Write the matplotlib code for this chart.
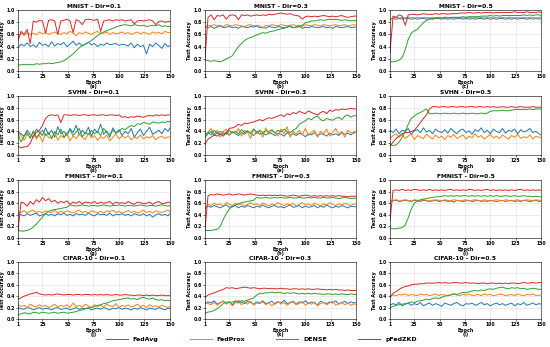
import numpy as np
import matplotlib.pyplot as plt

# sampled epochs (every 3rd epoch + last)
EPOCHS = list(range(1, 150, 3)) + [150]

methods = ["FedAvg", "FedProx", "DENSE", "pFedZKD"]
colors = ["#1f77b4", "#ff7f0e", "#2ca02c", "#d62728"]

titles = ["MNIST - Dir=0.1", "MNIST - Dir=0.3", "MNIST - Dir=0.5",
          "SVHN - Dir=0.1", "SVHN - Dir=0.3", "SVHN - Dir=0.5",
          "FMNIST - Dir=0.1", "FMNIST - Dir=0.3", "FMNIST - Dir=0.5",
          "CIFAR-10 - Dir=0.1", "CIFAR-10 - Dir=0.3", "CIFAR-10 - Dir=0.5"]
letters = "abcdefghijkl"

# test accuracy in %, order: FedAvg, FedProx, DENSE, pFedZKD
mnist_01 = [
    [38,44,41,46,40,43,39,47,42,44,40,48,41,45,43,47,40,44,49,42,46,41,44,47,43,45,40,44,42,46,43,44,45,42,44,43,41,46,38,44,40,42,28,44,40,46,42,37,45,40,42],
    [55,62,58,63,60,62,59,64,61,63,60,62,64,61,60,63,61,65,62,58,63,61,64,62,60,63,65,61,62,64,60,63,61,62,64,61,63,60,62,64,61,63,62,60,64,62,63,61,65,63,63],
    [10,10,11,10,11,10,12,11,12,12,13,12,13,14,15,17,20,24,28,33,38,42,44,47,50,54,58,62,64,66,68,70,72,74,75,76,75,74,76,75,74,75,73,74,75,74,76,73,74,73,73],
    [50,65,60,68,45,82,80,83,82,62,83,84,82,60,82,83,85,82,63,84,82,76,84,85,84,83,85,65,82,83,84,82,84,83,84,82,83,84,77,82,83,82,83,84,82,76,81,82,80,81,81],
]
mnist_03 = [
    [72,71,73,70,72,74,71,72,73,71,72,70,73,72,71,73,72,74,71,72,70,73,72,71,73,72,71,72,74,71,72,73,70,72,71,73,72,71,72,73,71,72,70,73,72,71,72,73,71,72,72],
    [73,75,74,76,74,75,73,76,75,74,76,75,74,73,75,76,74,75,74,70,75,74,76,75,74,76,75,74,75,76,74,75,73,76,75,74,76,75,74,76,75,74,75,76,74,75,76,74,75,76,75],
    [18,17,16,17,16,15,17,20,22,25,33,40,45,50,53,55,57,59,61,63,62,64,65,66,68,69,70,72,73,71,72,73,75,79,80,82,82,83,84,83,84,85,84,85,84,83,84,83,82,83,82],
    [22,88,92,84,91,90,92,85,91,92,91,84,92,91,92,90,91,92,91,92,91,93,92,93,94,95,94,93,94,92,91,90,85,89,90,89,90,89,90,91,90,89,90,89,90,91,89,88,89,90,90],
]
mnist_05 = [
    [85,86,85,86,85,86,86,85,86,85,86,86,85,86,85,86,86,85,86,85,86,85,86,86,85,86,85,86,85,86,86,85,86,85,86,85,86,86,85,86,85,86,85,86,86,85,86,85,86,85,86],
    [84,87,88,87,88,87,88,88,87,88,87,88,88,87,88,87,88,87,88,88,87,88,87,88,87,88,88,87,88,87,88,87,88,88,87,88,87,88,87,88,88,87,88,87,88,87,88,88,87,88,88],
    [15,15,16,18,22,35,52,62,66,68,74,79,83,85,86,87,87,87,88,87,88,88,88,88,89,88,89,89,89,89,90,90,90,91,90,91,90,91,91,91,91,91,91,91,92,91,92,91,92,92,91],
    [30,90,88,92,90,75,92,93,93,92,93,94,93,93,93,94,93,94,94,93,94,94,94,95,95,95,96,95,95,96,95,96,96,96,95,96,96,96,96,96,96,97,96,96,96,97,96,96,96,97,96],
]
svhn_01 = [
    [40,36,32,42,35,30,44,38,33,46,35,42,30,48,36,40,33,45,38,50,34,42,36,47,32,44,38,52,35,41,30,46,37,43,33,40,36,45,30,38,44,33,40,47,35,38,42,36,45,40,46],
    [38,33,25,35,30,38,27,34,22,36,30,28,38,25,33,29,36,24,32,28,35,30,26,37,29,33,25,31,28,34,24,30,36,27,32,29,33,26,30,28,34,27,31,29,33,26,30,32,28,31,30],
    [36,22,32,38,28,41,30,36,42,33,38,28,40,34,44,30,37,42,33,39,45,31,38,35,42,36,40,33,45,38,35,42,37,40,45,43,47,50,48,53,52,55,54,52,56,55,54,56,55,57,56],
    [15,12,14,14,20,32,38,42,50,62,67,68,67,68,55,68,68,67,68,68,67,68,68,67,68,68,67,68,68,67,68,68,67,68,64,65,63,65,64,66,65,64,66,67,66,68,67,68,67,68,68],
]
svhn_03 = [
    [30,36,40,33,38,35,32,38,34,40,36,33,38,35,41,36,33,39,35,37,34,38,36,33,37,35,32,38,34,36,33,37,35,31,36,34,38,33,36,35,32,37,34,36,33,38,35,37,34,39,40],
    [33,38,45,35,42,30,40,44,33,40,36,45,32,42,38,28,44,36,40,30,46,35,41,38,32,44,36,48,30,40,35,42,34,45,33,38,42,30,40,36,44,32,38,45,35,40,30,42,38,36,40],
    [35,38,34,42,36,40,38,35,42,37,40,36,43,38,41,37,44,39,42,38,41,40,43,37,42,39,44,40,38,42,45,52,55,58,62,60,64,66,60,58,62,60,59,62,64,60,66,68,64,67,66],
    [18,27,30,34,32,36,35,38,45,46,48,52,50,54,53,55,56,58,60,58,61,63,62,64,66,68,65,70,68,72,70,74,72,70,75,72,70,68,72,74,70,76,74,77,76,78,77,78,79,78,78],
]
svhn_05 = [
    [42,38,44,36,42,40,45,35,41,43,38,46,39,42,36,44,40,38,43,37,45,40,36,42,44,38,41,35,43,40,46,38,42,36,44,40,38,45,37,42,40,44,36,43,39,41,45,38,40,36,34],
    [28,33,36,30,35,28,32,36,26,33,30,28,35,31,27,34,29,32,26,33,30,35,28,31,34,27,32,29,36,30,33,27,31,35,29,32,28,34,30,27,33,30,35,28,31,29,34,27,32,30,30],
    [18,16,17,22,30,40,52,62,66,70,72,75,78,70,70,71,70,70,71,70,70,71,70,70,71,70,70,71,70,70,71,70,71,74,75,75,75,76,75,75,76,77,77,77,77,77,78,77,78,78,78],
    [15,22,28,32,36,38,38,40,42,48,55,62,68,78,82,82,81,82,82,81,82,82,81,82,82,81,82,82,81,82,82,81,82,81,82,81,81,82,81,81,82,81,81,82,81,81,81,82,81,81,81],
]
fmnist_01 = [
    [42,40,38,42,39,41,43,38,40,42,39,41,38,42,40,43,39,41,38,42,40,41,39,43,40,38,42,40,41,39,43,38,41,40,42,39,41,38,42,40,39,42,38,41,36,40,42,39,41,38,42],
    [45,44,47,43,46,48,44,46,43,47,45,44,48,43,46,44,47,45,43,46,48,44,46,43,47,45,44,46,43,47,45,48,44,46,43,45,47,44,46,43,45,48,44,46,43,47,45,44,46,48,45],
    [13,12,12,13,15,19,24,30,36,42,46,48,49,50,51,52,53,57,56,55,56,57,56,55,56,56,55,56,57,56,55,56,56,57,56,55,56,56,55,56,57,56,55,56,56,55,56,57,56,55,56],
    [12,62,60,55,63,58,66,62,70,64,68,62,65,60,63,61,64,58,62,60,63,59,62,61,60,63,59,62,60,61,63,58,62,60,61,59,63,60,58,62,61,59,60,62,58,61,63,59,60,62,61],
]
fmnist_03 = [
    [52,55,53,56,54,52,55,57,53,54,56,52,55,53,56,54,52,55,53,57,54,52,55,56,53,54,52,55,57,53,54,56,52,55,53,54,56,52,55,53,57,54,52,55,53,56,54,52,55,54,54],
    [50,58,56,60,57,59,55,61,58,56,60,57,59,55,58,61,57,59,56,60,58,55,59,57,61,58,56,59,57,60,55,58,61,57,59,56,60,58,55,59,57,61,58,56,59,57,60,58,56,59,58],
    [13,13,13,14,15,20,32,42,50,54,57,59,61,62,63,64,65,70,69,69,70,69,69,70,69,70,69,69,70,69,69,70,69,69,70,69,70,69,69,70,69,69,70,69,68,69,70,69,68,69,68],
    [15,73,75,74,76,75,74,75,76,74,75,76,75,74,75,76,75,74,73,74,73,74,73,74,73,74,73,72,73,74,73,72,73,74,73,72,73,72,73,72,73,72,73,72,73,72,72,71,72,72,72],
]
fmnist_05 = [
    [63,64,65,63,64,65,64,63,65,64,63,65,64,63,64,65,63,64,65,63,64,62,65,64,63,64,65,63,64,65,63,64,63,65,64,63,64,65,63,64,65,63,64,63,65,64,63,64,65,63,64],
    [62,65,66,64,65,66,65,64,66,65,64,66,65,64,65,66,65,64,66,65,64,66,65,64,65,66,64,65,66,65,64,66,65,64,65,66,65,64,66,65,64,65,66,64,65,66,65,64,66,65,65],
    [16,16,16,17,18,22,35,50,60,64,66,67,68,69,70,71,71,72,73,72,73,72,73,72,73,73,72,73,72,73,72,73,72,73,72,73,72,72,73,72,72,73,72,72,73,72,72,71,72,71,71],
    [30,82,83,82,84,82,83,82,84,83,82,83,82,84,82,83,82,83,82,83,84,82,83,82,83,82,84,83,82,83,82,83,84,82,83,82,83,82,83,82,83,82,83,84,82,83,82,83,82,83,82],
]
cifar_01 = [
    [20,18,17,20,19,16,18,20,17,19,18,16,19,20,17,18,19,16,18,20,17,19,18,20,16,18,19,17,20,18,16,19,18,20,17,19,18,16,19,17,20,18,16,19,18,17,20,18,16,19,18],
    [25,22,24,20,26,23,21,25,22,24,20,23,26,21,24,22,25,20,28,22,24,21,26,23,20,25,22,24,21,26,23,22,27,20,24,22,25,21,23,26,22,24,20,25,22,23,21,24,22,20,22],
    [8,9,11,10,9,12,11,10,12,11,10,11,12,10,11,12,10,11,12,13,15,16,18,19,20,22,24,25,27,28,30,32,33,34,35,36,37,35,36,34,37,38,36,35,37,34,33,34,32,33,32],
    [35,37,40,42,44,45,47,44,43,42,43,42,43,44,43,42,43,43,42,43,43,42,43,43,42,43,42,43,42,43,42,42,43,42,42,43,42,42,41,42,42,41,42,41,42,41,41,42,41,41,41],
]
cifar_03 = [
    [27,30,28,32,26,29,31,27,30,25,32,28,30,27,31,29,26,30,28,32,27,29,31,26,30,28,33,27,29,31,26,30,28,32,27,30,28,25,31,29,27,30,28,32,26,29,31,27,30,28,29],
    [30,27,25,29,24,28,32,26,30,23,28,33,25,29,26,31,24,28,27,30,25,29,23,28,31,26,29,24,28,30,25,27,31,24,28,26,30,23,27,29,25,28,31,24,27,29,25,28,24,27,25],
    [10,12,13,15,18,22,27,30,29,30,31,30,32,31,33,35,37,42,45,45,46,46,47,46,47,46,45,46,45,46,45,44,45,44,45,44,45,44,44,43,44,44,43,44,43,44,43,43,44,43,43],
    [38,42,44,46,48,50,52,55,54,55,53,54,55,56,55,54,55,54,53,54,54,53,54,53,53,54,53,53,52,53,53,52,53,52,53,52,52,53,52,52,51,52,51,52,51,51,50,51,50,50,50],
]
cifar_05 = [
    [24,27,25,29,23,26,28,24,27,25,29,23,26,28,24,27,25,22,28,26,24,27,29,25,23,27,26,28,24,26,29,25,27,23,26,28,25,27,24,26,28,23,27,25,29,24,26,28,25,27,26],
    [40,42,41,43,42,44,41,43,42,41,44,42,43,41,42,44,41,43,42,41,43,44,42,41,43,42,44,41,42,43,41,44,42,43,41,42,44,43,41,42,43,41,44,42,41,43,42,44,41,42,42],
    [20,22,24,25,26,27,28,30,29,31,32,33,35,34,36,37,36,38,40,41,42,44,43,45,47,46,48,49,50,49,51,50,52,53,52,54,55,56,54,53,55,54,55,53,54,52,53,54,53,52,52],
    [38,45,48,52,55,57,58,60,61,61,62,62,63,63,63,63,64,63,64,63,63,64,64,63,63,64,63,63,63,62,63,63,62,63,63,62,63,62,63,62,63,63,62,63,64,63,63,64,63,64,64],
]

panels = [mnist_01, mnist_03, mnist_05, svhn_01, svhn_03, svhn_05,
          fmnist_01, fmnist_03, fmnist_05, cifar_01, cifar_03, cifar_05]

plt.rcParams['font.family'] = 'DejaVu Sans'
plt.rcParams['font.weight'] = 'bold'

fig = plt.figure(figsize=(5.5, 3.47), dpi=100)

# axes boxes in pixels
lefts = [18, 205, 390]
widths = [152, 151, 151]
tops = [10, 96, 180, 262]
bottoms = [71, 155, 238, 319]
W, H = 550.0, 347.0

lines = []
for k, data in enumerate(panels):
    r, c = divmod(k, 3)
    ax = fig.add_axes([lefts[c] / W, 1 - bottoms[r] / H,
                       widths[c] / W, (bottoms[r] - tops[r]) / H])
    for j, vals in enumerate(data):
        if len(vals) != len(EPOCHS):
            raise ValueError("%s %s: %d values" % (titles[k], methods[j], len(vals)))
        ln, = ax.plot(EPOCHS, np.array(vals) / 100.0, color=colors[j], lw=0.7)
        if k == 0:
            lines.append(ln)
    ax.set_xlim(1, 150)
    ax.set_ylim(0, 1.0)
    ax.set_xticks([1, 25, 50, 75, 100, 125, 150])
    ax.set_yticks([0, 0.2, 0.4, 0.6, 0.8, 1.0])
    ax.tick_params(labelsize=3.3, length=1.5, width=0.4, pad=0.8)
    ax.grid(True, color="#dddddd", lw=0.4)
    for s in ax.spines.values():
        s.set_linewidth(0.4)
    ax.set_title(titles[k], fontsize=4.3, fontweight='bold', pad=1.2)
    ax.set_xlabel("Epoch\n(%s)" % letters[k], fontsize=3.4, fontweight='bold',
                  labelpad=0.3, linespacing=0.95)
    ax.set_ylabel("Test Accuracy", fontsize=3.6, fontweight='bold', labelpad=1)

fig.legend(lines, methods, loc='center', bbox_to_anchor=(0.475, 0.022), ncol=4,
           frameon=False, fontsize=4.5, handlelength=3.5, columnspacing=5,
           handletextpad=0.8)

fig.savefig("out.png", dpi=100)
